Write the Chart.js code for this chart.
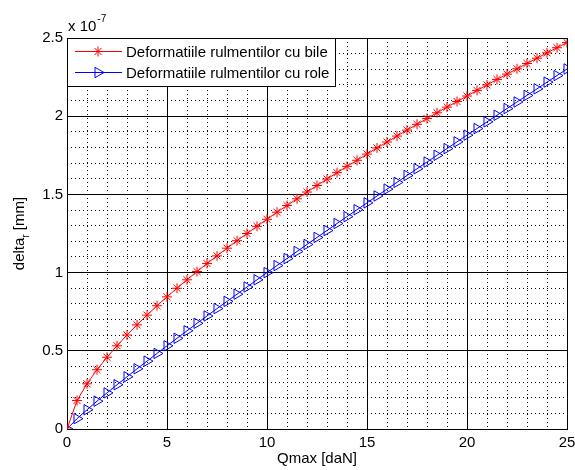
<!DOCTYPE html>
<html>
<head>
<meta charset="utf-8">
<script src="https://cdn.jsdelivr.net/npm/chart.js@4/dist/chart.umd.min.js"></script>
<style>
  html, body { margin: 0; padding: 0; background: #fff; }
  #wrap { width: 575px; height: 470px; }
</style>
</head>
<body>
<div id="wrap"><canvas id="deformChart" width="575" height="470"></canvas></div>
<script>
  const FONT = '"Liberation Sans", Arial, sans-serif';

  // load Qmax [daN]
  const qmax = [0, 0.5, 1, 1.5, 2, 2.5, 3, 3.5, 4, 4.5, 5, 5.5, 6, 6.5, 7, 7.5, 8, 8.5, 9, 9.5,
    10, 10.5, 11, 11.5, 12, 12.5, 13, 13.5, 14, 14.5, 15, 15.5, 16, 16.5, 17, 17.5, 18, 18.5, 19, 19.5,
    20, 20.5, 21, 21.5, 22, 22.5, 23, 23.5, 24, 24.5, 25];

  // deformation, units of 1e-7 mm
  const bile = [0, 0.182, 0.289, 0.379, 0.459, 0.532, 0.601, 0.666, 0.728, 0.788, 0.845, 0.900, 0.954, 1.007,
    1.058, 1.107, 1.156, 1.204, 1.250, 1.296, 1.341, 1.386, 1.429, 1.472, 1.515, 1.557, 1.598, 1.639,
    1.679, 1.718, 1.758, 1.797, 1.835, 1.873, 1.911, 1.948, 1.985, 2.022, 2.058, 2.094, 2.129, 2.165,
    2.200, 2.235, 2.269, 2.303, 2.337, 2.371, 2.405, 2.438, 2.471];
  const role = [0, 0.066, 0.123, 0.178, 0.231, 0.283, 0.334, 0.385, 0.434, 0.483, 0.532, 0.580, 0.628, 0.676,
    0.723, 0.770, 0.816, 0.862, 0.908, 0.954, 1.000, 1.045, 1.090, 1.135, 1.180, 1.225, 1.269, 1.314,
    1.358, 1.402, 1.446, 1.490, 1.534, 1.577, 1.621, 1.664, 1.707, 1.750, 1.793, 1.836, 1.879, 1.921,
    1.964, 2.006, 2.049, 2.091, 2.133, 2.175, 2.218, 2.260, 2.302];

  const xTicks = [0, 5, 10, 15, 20, 25];
  const yTicks = [0, 0.5, 1, 1.5, 2, 2.5];
  const seriesNames = ['Deformatiile rulmentilor cu bile', 'Deformatiile rulmentilor cu role'];

  const toPoints = ys => qmax.map((q, i) => ({ x: q, y: ys[i] }));

  const redStyle = { pointStyle: 'star', radius: 5, rotation: 0, borderColor: '#ff0000', backgroundColor: '#ff0000' };
  const blueStyle = { pointStyle: 'triangle', radius: 6, rotation: 90, borderColor: '#0000ff', backgroundColor: 'rgba(0,0,0,0)' };

  // axis titles, exponent and the boxed legend
  const annotations = {
    id: 'annotations',
    afterDraw(chart) {
      const ctx = chart.ctx;
      const area = chart.chartArea;
      ctx.save();
      ctx.fillStyle = '#000';
      ctx.textBaseline = 'middle';

      // x 10^-7
      ctx.font = '15px ' + FONT;
      ctx.textAlign = 'left';
      ctx.fillText('x 10', area.left + 1, 27);
      const w = ctx.measureText('x 10').width;
      ctx.font = '10px ' + FONT;
      ctx.fillText('-7', area.left + 1 + w + 1, 19);

      // x title
      ctx.font = '15px ' + FONT;
      ctx.textAlign = 'center';
      ctx.fillText('Qmax [daN]', (area.left + area.right) / 2, 459);

      // y title with subscript r
      ctx.save();
      ctx.translate(20, (area.top + area.bottom) / 2);
      ctx.rotate(-Math.PI / 2);
      ctx.font = '15px ' + FONT;
      const partA = 'delta', partB = ' [mm]';
      const wa = ctx.measureText(partA).width;
      const wb = ctx.measureText(partB).width;
      ctx.font = '10px ' + FONT;
      const wr = ctx.measureText('r').width;
      const x0 = -(wa + wr + wb) / 2;
      ctx.textAlign = 'left';
      ctx.font = '15px ' + FONT;
      ctx.fillText(partA, x0, 0);
      ctx.font = '10px ' + FONT;
      ctx.fillText('r', x0 + wa, 6);
      ctx.font = '15px ' + FONT;
      ctx.fillText(partB, x0 + wa + wr, 0);
      ctx.restore();

      // legend
      const lx = area.left, ly = area.top, lw = 268, lh = 48;
      ctx.fillStyle = '#fff';
      ctx.fillRect(lx, ly, lw, lh);
      ctx.strokeStyle = '#000';
      ctx.lineWidth = 1;
      ctx.strokeRect(lx + 0.5, ly + 0.5, lw, lh);
      const rows = [[redStyle, 13.5], [blueStyle, 34.5]];
      rows.forEach(([st, dy], i) => {
        const yy = ly + dy;
        ctx.strokeStyle = st.borderColor;
        ctx.lineWidth = 1;
        ctx.beginPath();
        ctx.moveTo(lx + 8, yy);
        ctx.lineTo(lx + 55, yy);
        ctx.stroke();
        ctx.fillStyle = st.backgroundColor;
        Chart.helpers.drawPoint(ctx, {
          pointStyle: st.pointStyle, radius: st.radius, rotation: st.rotation, borderWidth: 1
        }, lx + 31, yy);
        ctx.fillStyle = '#000';
        ctx.font = '15px ' + FONT;
        ctx.textAlign = 'left';
        ctx.fillText(seriesNames[i], lx + 59, yy + 1);
      });
      ctx.restore();
    }
  };

  const noEdgePadding = s => { s.paddingLeft = 0; s.paddingRight = 0; s.paddingTop = 0; s.paddingBottom = 0; };

  new Chart(document.getElementById('deformChart').getContext('2d'), {
    type: 'line',
    data: {
      datasets: [
        {
          label: seriesNames[0],
          data: toPoints(bile),
          borderColor: '#ff0000',
          borderWidth: 1,
          pointStyle: redStyle.pointStyle,
          pointRadius: redStyle.radius,
          pointBorderColor: '#ff0000',
          pointBackgroundColor: '#ff0000',
          pointBorderWidth: 1,
          tension: 0
        },
        {
          label: seriesNames[1],
          data: toPoints(role),
          borderColor: '#0000ff',
          borderWidth: 1,
          pointStyle: blueStyle.pointStyle,
          pointRotation: blueStyle.rotation,
          pointRadius: blueStyle.radius,
          pointBorderColor: '#0000ff',
          pointBackgroundColor: 'rgba(0,0,0,0)',
          pointBorderWidth: 1,
          tension: 0
        }
      ]
    },
    options: {
      responsive: false,
      animation: false,
      events: [],
      layout: { padding: { left: 0, right: 8, top: 38, bottom: 0 } },
      plugins: { legend: { display: false }, tooltip: { enabled: false } },
      scales: {
        x: {
          type: 'linear', min: 0, max: 25,
          afterFit: s => { s.height = 41; noEdgePadding(s); },
          afterBuildTicks: s => { s.ticks = xTicks.map(v => ({ value: v })); },
          grid: { color: '#000', lineWidth: 1, drawTicks: false },
          border: { color: '#000' },
          ticks: { color: '#000', font: { family: FONT, size: 15 }, padding: 5, maxRotation: 0, callback: v => String(v) }
        },
        xm: {
          type: 'linear', min: 0, max: 25, position: 'bottom',
          afterFit: s => { s.height = 0; noEdgePadding(s); },
          ticks: { display: false, stepSize: 1 },
          grid: { color: '#000', lineWidth: 1, drawTicks: false },
          border: { display: false, dash: [1, 3] }
        },
        y: {
          type: 'linear', min: 0, max: 2.5,
          afterFit: s => { s.width = 67; noEdgePadding(s); },
          afterBuildTicks: s => { s.ticks = yTicks.map(v => ({ value: v })); },
          grid: { color: '#000', lineWidth: 1, drawTicks: false },
          border: { color: '#000' },
          ticks: { color: '#000', font: { family: FONT, size: 15 }, padding: 4, callback: v => String(v) }
        },
        ym: {
          type: 'linear', min: 0, max: 2.5, position: 'left',
          afterFit: s => { s.width = 0; noEdgePadding(s); },
          ticks: { display: false, stepSize: 0.1 },
          grid: { color: '#000', lineWidth: 1, drawTicks: false },
          border: { display: false, dash: [1, 3] }
        }
      }
    },
    plugins: [annotations]
  });
</script>
</body>
</html>
